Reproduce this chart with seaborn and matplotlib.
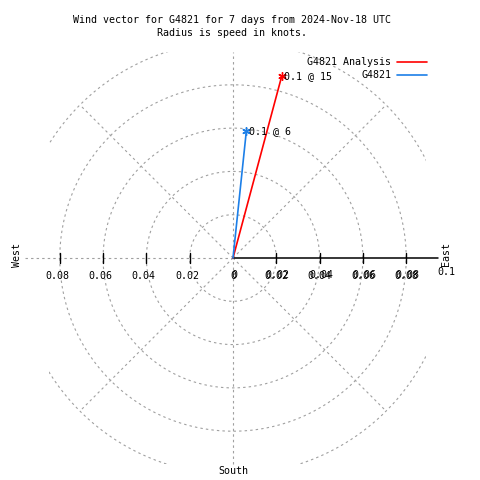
import numpy as np
import pandas as pd
import matplotlib
matplotlib.use("Agg")
import matplotlib.pyplot as plt
import seaborn as sns
from matplotlib.lines import Line2D
from matplotlib.patches import Rectangle

# data
series = ["G4821 Analysis", "G4821"]
speeds = [0.087, 0.059]          # knots
directions = [15, 6]             # degrees, clockwise from north
colors = ["#ff0000", "#1c7fe8"]
rings = [0.02, 0.04, 0.06, 0.08, 0.1]
spokes = [45, 135, 225, 315]
left_ticks = [0.08, 0.06, 0.04, 0.02]
right_ticks = [0.02, 0.04, 0.06, 0.08]

sns.set_theme(style="white")
plt.rcParams["font.family"] = ["DejaVu Sans Mono", "DejaVu Sans"]
plt.rcParams["font.size"] = 7.2
plt.rcParams["text.color"] = "black"

fig = plt.figure(figsize=(4.8, 4.8), dpi=100)
ax = fig.add_axes([0, 0, 1, 1])
scale = 2165.0  # pixels per knot
cx, cy = 233, 258
ax.set_xlim(-cx / scale, (480 - cx) / scale)
ax.set_ylim(-(480 - cy) / scale, cy / scale)
ax.set_aspect("equal")
ax.axis("off")

grid = dict(color="#a0a0a0", lw=0.8, ls=(0, (2.2, 2.8)))
lim = 0.095
clip = Rectangle((-0.085, -lim), 0.085 + 0.089, 2 * lim, transform=ax.transData)

# polar grid
t = np.linspace(0, 2 * np.pi, 400)
for r in rings:
    ln, = ax.plot(r * np.cos(t), r * np.sin(t), **grid)
    ln.set_clip_path(clip)
for a in spokes:
    ar = np.deg2rad(a)
    ax.plot([0, 0.1 * np.sin(ar)], [0, 0.1 * np.cos(ar)], **grid)
ax.plot([0, 0], [-lim, lim], **grid)
ax.plot([-0.0963, 0], [0, 0], **grid)

# east axis with ticks
ax.plot([0, 0.0947], [0, 0], color="black", lw=1.1)
for v in right_ticks:
    ax.plot([v, v], [-0.0025, 0.0025], color="black", lw=1)
for v in left_ticks:
    ax.plot([-v, -v], [-0.0025, 0.0025], color="black", lw=1)

for v in left_ticks:
    ax.text(-v - 0.0012, -0.0085, f"{v:.2f}", ha="center", va="center")
for v in right_ticks:
    ax.text(v, -0.0085, f"{v:.2f}", ha="center", va="center")
    ax.text(v + 0.0006, -0.008, f"{v:.2f}", ha="center", va="center")
ax.text(0, -0.0085, "0", ha="center", va="center")
ax.text(0.0006, -0.008, "0", ha="center", va="center")
ax.text(0.0985, -0.0065, "0.1", ha="center", va="center")
ax.text(0.0985, 0.002, "East", rotation=90, ha="center", va="center")
ax.text(-0.1, 0.0012, "West", rotation=90, ha="center", va="center")
ax.text(0, -0.0983, "South", ha="center", va="center")

# wind vectors
ends = pd.DataFrame({
    "series": series,
    "speed": speeds,
    "dir": directions,
})
ends["x"] = ends["speed"] * np.sin(np.deg2rad(ends["dir"]))
ends["y"] = ends["speed"] * np.cos(np.deg2rad(ends["dir"]))
origin = ends.assign(x=0.0, y=0.0)
vec = pd.concat([origin, ends]).reset_index(drop=True)

palette = dict(zip(series, colors))
sns.lineplot(data=vec, x="x", y="y", hue="series", units="series", estimator=None,
             sort=False, palette=palette, lw=1.2, legend=False, ax=ax)
for _, row in ends.iterrows():
    ax.plot(row["x"], row["y"], marker=(6, 2, 0), ms=6, mew=1.0,
            color=palette[row["series"]])
    ax.text(row["x"] + 0.0012, row["y"], f"{row['speed']:.1f} @ {row['dir']}",
            ha="left", va="center")

# legend, right-aligned text like gnuplot
for i, (name, c) in enumerate(zip(series, colors)):
    yy = 1 - (62 + 13 * i) / 480
    fig.text(391 / 480, yy, name, ha="right", va="center")
    fig.add_artist(Line2D([397 / 480, 427 / 480], [yy, yy], color=c, lw=1.2))

fig.text(232 / 480, 1 - 20 / 480, "Wind vector for G4821 for 7 days from 2024-Nov-18 UTC",
         ha="center", va="center")
fig.text(232 / 480, 1 - 33 / 480, "Radius is speed in knots.", ha="center", va="center")

fig.savefig("out.png", dpi=100, facecolor="white")
